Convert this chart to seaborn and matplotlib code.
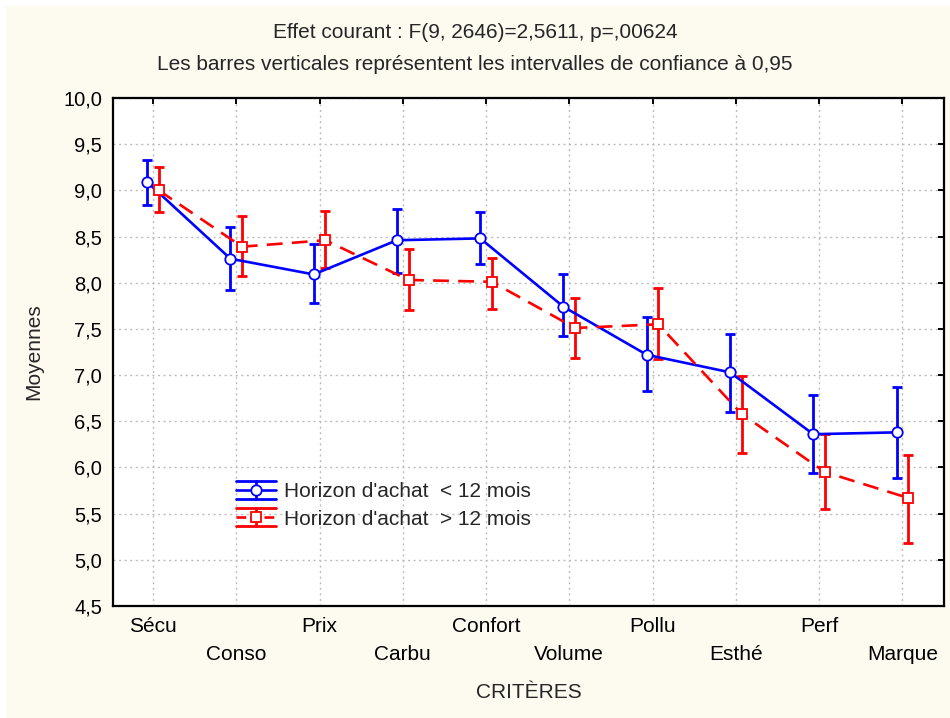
import numpy as np
import pandas as pd
import matplotlib
matplotlib.use("Agg")
import matplotlib.pyplot as plt
from matplotlib.lines import Line2D
from matplotlib.legend_handler import HandlerBase
from matplotlib.patches import Rectangle
from matplotlib.ticker import FuncFormatter, MultipleLocator
import seaborn as sns

# --- data -------------------------------------------------------------
criteres = ["Sécu", "Conso", "Prix", "Carbu", "Confort",
            "Volume", "Pollu", "Esthé", "Perf", "Marque"]

moins_12_moy = [9.09, 8.26, 8.09, 8.46, 8.48, 7.74, 7.22, 7.03, 6.36, 6.38]
moins_12_bas = [8.84, 7.92, 7.78, 8.11, 8.20, 7.42, 6.83, 6.60, 5.94, 5.89]
moins_12_haut = [9.33, 8.60, 8.42, 8.80, 8.77, 8.09, 7.63, 7.45, 6.78, 6.87]

plus_12_moy = [9.00, 8.39, 8.46, 8.03, 8.01, 7.51, 7.55, 6.58, 5.95, 5.67]
plus_12_bas = [8.77, 8.07, 8.16, 7.70, 7.72, 7.18, 7.17, 6.16, 5.55, 5.18]
plus_12_haut = [9.25, 8.72, 8.78, 8.37, 8.27, 7.84, 7.94, 6.99, 6.36, 6.14]

series_labels = ["Horizon d'achat  < 12 mois", "Horizon d'achat  > 12 mois"]
title_lines = ["Effet courant : F(9, 2646)=2,5611, p=,00624",
               "Les barres verticales représentent les intervalles de confiance à 0,95"]
x_title = "CRITÈRES"
y_title = "Moyennes"

# --- style ------------------------------------------------------------
sns.set_style("white")
plt.rcParams["font.family"] = ["Liberation Sans", "DejaVu Sans"]

BLUE = "#0000FF"
RED = "#FF0000"
CREAM = "#FDFAF0"
FS = 15

fig = plt.figure(figsize=(9.5, 7.18), dpi=100, facecolor="white")
fig.patches.append(Rectangle((6 / 950, 0), 1, 1 - 6 / 718,
                             transform=fig.transFigure, facecolor=CREAM,
                             edgecolor="none", zorder=-10))
ax = fig.add_axes([113 / 950, 1 - 606 / 718, (944 - 113) / 950, (606 - 98) / 718])
ax.set_facecolor("white")

pos = np.arange(len(criteres))
series = [
    dict(moy=moins_12_moy, bas=moins_12_bas, haut=moins_12_haut, color=BLUE,
         marker="o", ls="-", off=-0.07, label=series_labels[0]),
    dict(moy=plus_12_moy, bas=plus_12_bas, haut=plus_12_haut, color=RED,
         marker="s", ls=(0, (6, 3.5)), off=0.07, label=series_labels[1]),
]

for s in series:
    moy = np.array(s["moy"])
    yerr = np.vstack([moy - np.array(s["bas"]), np.array(s["haut"]) - moy])
    xs = pos + s["off"]
    ax.errorbar(xs, moy, yerr=yerr, fmt="none", ecolor=s["color"],
                elinewidth=2.0, capsize=3.6, capthick=2.0, zorder=3)
    df = pd.DataFrame({"x": xs, "y": moy})
    sns.lineplot(data=df, x="x", y="y", ax=ax, color=s["color"],
                 marker=s["marker"], markersize=7.5, markerfacecolor="white",
                 markeredgecolor=s["color"], markeredgewidth=1.3,
                 linewidth=1.9, linestyle=s["ls"], zorder=4, legend=False)

# --- axes -------------------------------------------------------------
ax.set_xlim(-0.48, 9.5)
ax.set_ylim(4.5, 10.0)
ax.yaxis.set_major_locator(MultipleLocator(0.5))
ax.yaxis.set_major_formatter(FuncFormatter(lambda v, _: f"{v:.1f}".replace(".", ",")))
ax.set_xticks(pos)
ax.set_xticklabels(criteres)
ax.grid(True, color="#BDBDBD", linestyle=(0, (1.5, 2.5)), linewidth=1.0)
ax.set_axisbelow(True)
for sp in ax.spines.values():
    sp.set_color("black")
    sp.set_linewidth(1.6)
ax.tick_params(axis="both", which="major", direction="in", length=4, width=1.4,
               color="black", labelsize=FS, labelcolor="black",
               top=True, right=True)
ax.tick_params(axis="y", pad=8, labelsize=14.5)
ax.tick_params(axis="x", pad=8)
for t in ax.xaxis.get_major_ticks()[1::2]:
    t.set_pad(8 + 20)

ax.set_xlabel(x_title, fontsize=FS, labelpad=14)
ax.set_ylabel(y_title, fontsize=FS, labelpad=14)

fig.text(0.5, 1 - 33 / 718, title_lines[0], ha="center", va="center", fontsize=FS)
fig.text(0.5, 1 - 64 / 718, title_lines[1], ha="center", va="center", fontsize=FS)


# --- legend with error-bar keys --------------------------------------
class ErrorBarKey(HandlerBase):
    def create_artists(self, legend, orig_handle, xdescent, ydescent,
                       width, height, fontsize, trans):
        c = orig_handle.get_color()
        x0, x1 = -xdescent, width - xdescent
        y0, y1 = -ydescent, height - ydescent
        ym, xm = (y0 + y1) / 2, (x0 + x1) / 2
        arts = [
            Line2D([x0, x1], [y0, y0], color=c, lw=2.0),
            Line2D([x0, x1], [y1, y1], color=c, lw=2.0),
            Line2D([xm, xm], [y0, y1], color=c, lw=2.0),
            Line2D([x0, x1], [ym, ym], color=c, lw=1.9,
                   linestyle=orig_handle.get_linestyle()),
            Line2D([xm], [ym], color=c, marker=orig_handle.get_marker(),
                   markersize=7.5, markerfacecolor="white",
                   markeredgecolor=c, markeredgewidth=1.3, linestyle="none"),
        ]
        for a in arts:
            a.set_transform(trans)
        return arts


proxies = [Line2D([], [], color=s["color"], marker=s["marker"],
                  linestyle=s["ls"]) for s in series]
ax.legend(proxies, [s["label"] for s in series],
          handler_map={Line2D: ErrorBarKey()},
          loc="upper left", bbox_to_anchor=(0.148, 0.246), frameon=False,
          fontsize=FS, handlelength=1.9, handleheight=0.96,
          handletextpad=0.4, labelspacing=0.34, borderaxespad=0, borderpad=0)

fig.savefig("out.png", dpi=100, facecolor=fig.get_facecolor())
